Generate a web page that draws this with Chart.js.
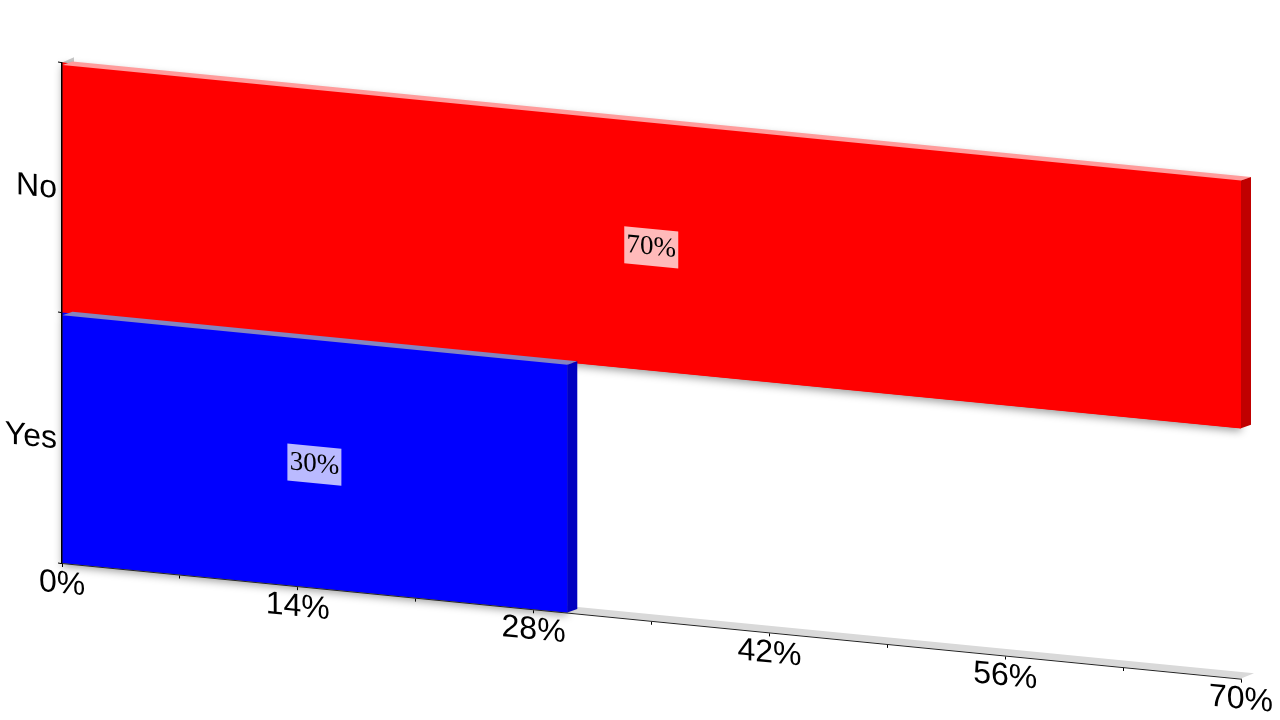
<!DOCTYPE html>
<html>
<head>
<meta charset="utf-8">
<script src="https://cdn.jsdelivr.net/npm/chart.js@4"></script>
<style>
  html, body { margin: 0; background: #fff; }
  canvas { display: block; }
</style>
</head>
<body>
<canvas id="myChart" width="1280" height="720"></canvas>
<script>
var categories = ['No', 'Yes'];
var values = [70, 30];
var barColors = ['#ff0000', '#0000ff'];
var topColors = ['#ff9c9c', '#8484c0'];
var sideColors = ['#c00000', '#0000c0'];

// the picture is a flat chart seen at an angle, so everything gets sheared
var skew = 0.098;
var skewOrigin = 62;

function poly(ctx, pts, color) {
  ctx.fillStyle = color;
  ctx.beginPath();
  ctx.moveTo(pts[0][0], pts[0][1]);
  for (var i = 1; i < pts.length; i++) ctx.lineTo(pts[i][0], pts[i][1]);
  ctx.closePath();
  ctx.fill();
}

var shearPlugin = {
  id: 'shear',
  beforeDraw: function (chart) {
    chart.ctx.save();
    chart.ctx.transform(1, skew, 0, 1, 0, -skew * skewOrigin);
  },
  afterDraw: function (chart) {
    chart.ctx.restore();
  }
};

var depthPlugin = {
  id: 'depth',
  beforeDatasetsDraw: function (chart) {
    var ctx = chart.ctx;
    var a = chart.chartArea;
    // floor and back wall
    poly(ctx, [[a.left, a.bottom], [a.right, a.bottom], [a.right + 13, a.bottom - 6.5], [a.left + 13, a.bottom - 6.5]], '#d9d9d9');
    poly(ctx, [[a.left, a.top], [a.left + 12, a.top - 6.5], [a.left + 12, a.bottom - 6.5], [a.left, a.bottom]], '#c8c8c8');

    // soft shadow below the bars
    ctx.save();
    ctx.shadowColor = 'rgba(0,0,0,0.4)';
    ctx.shadowBlur = 9;
    ctx.shadowOffsetY = 3;
    chart.getDatasetMeta(0).data.forEach(function (bar, i) {
      ctx.fillStyle = barColors[i];
      ctx.fillRect(bar.base, bar.y - bar.height / 2, bar.x - bar.base, bar.height);
    });
    ctx.restore();
  },
  afterDatasetsDraw: function (chart) {
    var ctx = chart.ctx;
    chart.getDatasetMeta(0).data.forEach(function (bar, i) {
      var x0 = bar.base, x1 = bar.x;
      var y0 = bar.y - bar.height / 2, y1 = bar.y + bar.height / 2;

      // top and right faces
      poly(ctx, [[x0, y0 + 2.5], [x1, y0 + 2.5], [x1 + 10, y0 - 2], [x0 + 10, y0 - 2]], topColors[i]);
      poly(ctx, [[x1, y0 + 2.5], [x1 + 10, y0 - 2], [x1 + 10, y1 - 4.5], [x1, y1]], sideColors[i]);

      // value label
      var cx = (x0 + x1) / 2 - 0.5;
      var cy = bar.y + 2;
      ctx.fillStyle = 'rgba(255,255,255,0.73)';
      ctx.fillRect(cx - 27, cy - 18.5, 54, 37);
      ctx.fillStyle = '#000';
      ctx.font = '27px "Liberation Serif"';
      ctx.textAlign = 'center';
      ctx.textBaseline = 'middle';
      ctx.fillText(values[i] + '%', cx, cy);
    });
  }
};

var ctx = document.getElementById('myChart');
var myChart = new Chart(ctx, {
  type: 'bar',
  data: {
    labels: categories,
    datasets: [
      {
        data: values,
        backgroundColor: barColors,
        barPercentage: 1,
        categoryPercentage: 1
      }
    ]
  },
  options: {
    indexAxis: 'y',
    responsive: false,
    animation: false,
    layout: { padding: { top: 62.5, right: 39 } },
    plugins: {
      legend: { display: false },
      tooltip: { enabled: false }
    },
    scales: {
      x: {
        min: 0,
        max: 70,
        afterFit: function (scale) { scale.height = 157; },
        grid: { drawOnChartArea: false, tickLength: 4, tickColor: '#000', tickWidth: 1, z: 1 },
        border: { color: '#222', width: 1, z: 1 },
        ticks: {
          stepSize: 7,
          autoSkip: false,
          maxRotation: 0,
          padding: -2,
          color: '#000',
          font: { family: 'Liberation Sans', size: 32 },
          callback: function (v) { return v % 14 === 0 ? v + '%' : ''; }
        }
      },
      y: {
        afterFit: function (scale) { scale.width = 62; },
        grid: { drawOnChartArea: false, tickLength: 4, tickColor: '#000', tickWidth: 1, z: 1 },
        border: { color: '#000', width: 1.5, z: 1 },
        ticks: {
          padding: 1,
          labelOffset: 2,
          color: '#000',
          font: { family: 'Liberation Sans', size: 32 }
        }
      }
    }
  },
  plugins: [shearPlugin, depthPlugin]
});
</script>
</body>
</html>
